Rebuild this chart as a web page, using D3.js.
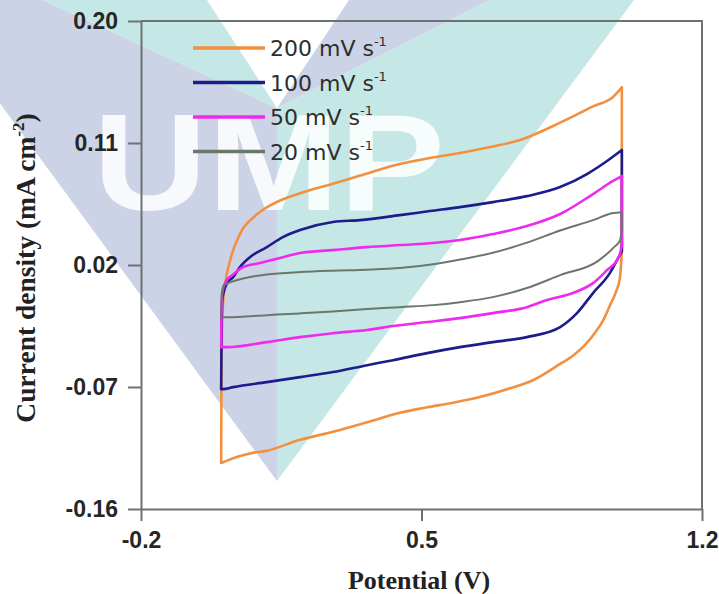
<!DOCTYPE html>
<html>
<head>
<meta charset="utf-8">
<script src="https://cdn.jsdelivr.net/npm/d3@7"></script>
<style>
  body { margin: 0; background: #fff; }
  svg { display: block; }
</style>
</head>
<body>
<div id="chart"></div>
<script>
// CV loops, [potential V, current density mA cm^-2]
// fwd = upper branch 0 -> 1 V, rev = lower branch 1 -> 0 V
const fwd200 = [[0,-0.126],[0.001,-0.05],[0.004,-0.012],[0.010,0.006],[0.022,0.023],[0.047,0.043],[0.084,0.056],[0.129,0.065],[0.197,0.073],[0.279,0.080],[0.347,0.086],[0.446,0.0945],[0.521,0.099],[0.596,0.1026],[0.671,0.107],[0.746,0.1122],[0.846,0.125],[0.928,0.137],[0.978,0.144],[1.0,0.151]];
const rev200 = [[1.0,0.03],[0.995,0.010],[0.985,0.0],[0.970,-0.010],[0.953,-0.021],[0.933,-0.030],[0.908,-0.039],[0.878,-0.047],[0.846,-0.053],[0.778,-0.065],[0.721,-0.071],[0.638,-0.078],[0.571,-0.082],[0.514,-0.085],[0.446,-0.089],[0.364,-0.096],[0.279,-0.103],[0.197,-0.109],[0.114,-0.117],[0.072,-0.119],[0.030,-0.1225],[0.005,-0.1255],[0,-0.126]];

const fwd100 = [[0,-0.0716],[0.001,-0.03],[0.003,-0.005],[0.015,0.0066],[0.03,0.011],[0.047,0.0185],[0.072,0.0258],[0.114,0.0332],[0.154,0.0406],[0.197,0.0458],[0.279,0.0517],[0.347,0.0531],[0.446,0.0568],[0.521,0.0598],[0.596,0.0627],[0.678,0.0664],[0.763,0.0708],[0.846,0.0775],[0.913,0.0871],[0.963,0.0967],[1.0,0.1048]];
const rev100 = [[1.0,0.03],[0.988,0.0236],[0.970,0.014],[0.928,-0.0007],[0.888,-0.0155],[0.846,-0.0258],[0.763,-0.0332],[0.678,-0.0369],[0.596,-0.0406],[0.514,-0.045],[0.429,-0.0502],[0.364,-0.0539],[0.279,-0.059],[0.197,-0.0627],[0.114,-0.0664],[0.030,-0.0701],[0.005,-0.0716],[0,-0.0716]];

const fwd50 = [[0,-0.0406],[0.001,-0.015],[0.003,0.0],[0.012,0.008],[0.03,0.013],[0.055,0.0185],[0.097,0.0214],[0.154,0.0258],[0.197,0.0288],[0.279,0.031],[0.364,0.0332],[0.446,0.0347],[0.529,0.0362],[0.596,0.0384],[0.678,0.0428],[0.763,0.0487],[0.846,0.0576],[0.928,0.0723],[0.978,0.082],[1.0,0.0856]];
const rev50 = [[1.0,0.035],[0.995,0.028],[0.988,0.0236],[0.963,0.0162],[0.928,0.0066],[0.878,-0.0007],[0.813,-0.0059],[0.763,-0.0111],[0.678,-0.0155],[0.596,-0.0192],[0.514,-0.0221],[0.429,-0.025],[0.364,-0.028],[0.279,-0.0303],[0.197,-0.0332],[0.114,-0.0369],[0.015,-0.0406],[0,-0.0406]];

const fwd20 = [[0,-0.0185],[0.002,0.0],[0.008,0.0052],[0.04,0.0089],[0.072,0.0111],[0.114,0.013],[0.197,0.0148],[0.279,0.0158],[0.364,0.0165],[0.446,0.0177],[0.529,0.0205],[0.596,0.024],[0.678,0.029],[0.763,0.0365],[0.846,0.0455],[0.928,0.0531],[0.978,0.0583],[1.0,0.059]];
const rev20 = [[1.0,0.045],[0.995,0.038],[0.98,0.033],[0.94,0.0229],[0.846,0.0125],[0.763,0.003],[0.678,-0.0037],[0.596,-0.0074],[0.529,-0.0096],[0.446,-0.0111],[0.364,-0.0125],[0.279,-0.0143],[0.197,-0.0157],[0.114,-0.017],[0.015,-0.0185],[0,-0.0185]];

const scanRates = ['200', '100', '50', '20'];
const colors = ['#f39040', '#1c1c8c', '#ee2aee', '#6a786a'];
const xTicks = [-0.2, 0.5, 1.2];
const yTicks = [-0.16, -0.07, 0.02, 0.11, 0.20];

const loops = [[fwd200, rev200], [fwd100, rev100], [fwd50, rev50], [fwd20, rev20]];

const width = 719, height = 594;
const margin = { top: 21, right: 17, bottom: 85, left: 141 };

const svg = d3.select('#chart').append('svg')
    .attr('width', width)
    .attr('height', height);

// faded logo watermark behind the plot (it is in the source image)
const wm = svg.append('g');
const lav = '#cdd3e6', teal = '#c5e8e6';
const wmShapes = [
    { fill: lav, pts: [[-76,0],[43,0],[277,108],[277,481]] },
    { fill: teal, pts: [[43,0],[207,0],[277,108]] },
    { fill: lav, pts: [[349,0],[490,0],[277,108]] },
    { fill: teal, pts: [[490,0],[634,0],[277,481],[277,108]] }
];
wm.selectAll('polygon')
    .data(wmShapes)
    .join('polygon')
    .attr('points', d => d.pts.join(' '))
    .attr('fill', d => d.fill);
wm.append('text')
    .attr('x', 93)
    .attr('y', 210)
    .attr('font-family', 'Liberation Sans, Arial, sans-serif')
    .attr('font-weight', 'bold')
    .attr('font-size', 138)
    .attr('textLength', 352)
    .attr('lengthAdjust', 'spacingAndGlyphs')
    .attr('fill', '#fff')
    .attr('fill-opacity', 0.85)
    .text('UMP');

const x = d3.scaleLinear()
    .domain([-0.2, 1.2])
    .range([margin.left, width - margin.right]);

const y = d3.scaleLinear()
    .domain([-0.16, 0.20])
    .range([height - margin.bottom, margin.top]);

const axisColor = '#6d7272';

// frame top + right
svg.append('path')
    .attr('d', `M${x(-0.2)},${y(0.20)}H${x(1.2)}V${y(-0.16)}`)
    .attr('fill', 'none')
    .attr('stroke', axisColor)
    .attr('stroke-width', 2);

const xAxis = svg.append('g')
    .attr('transform', `translate(0,${y(-0.16)})`)
    .call(d3.axisBottom(x).tickValues(xTicks).tickFormat(d => d.toFixed(1)).tickSize(12).tickSizeOuter(0).tickPadding(11));

const yAxis = svg.append('g')
    .attr('transform', `translate(${x(-0.2)},0)`)
    .call(d3.axisLeft(y).tickValues(yTicks).tickFormat(d => d.toFixed(2)).tickSize(13).tickSizeOuter(0).tickPadding(10));

[xAxis, yAxis].forEach(g => {
    g.select('.domain').attr('stroke', axisColor).attr('stroke-width', 2);
    g.selectAll('.tick line').attr('stroke', axisColor).attr('stroke-width', 2);
    g.selectAll('.tick text')
        .attr('fill', '#262626')
        .attr('font-family', 'Liberation Sans, Arial, sans-serif')
        .attr('font-weight', 'bold')
        .attr('font-size', 23);
});

// CV loops: smooth branches, straight switch at 1 V
const smooth = d3.line()
    .x(d => x(d[0]))
    .y(d => y(d[1]))
    .curve(d3.curveMonotoneX);
const straight = d3.line()
    .x(d => x(d[0]))
    .y(d => y(d[1]));

svg.append('g')
    .selectAll('path')
    .data(loops)
    .join('path')
    .attr('d', ([f, r]) => smooth(f) + smooth(r.slice().reverse()) + straight([f[f.length - 1], r[0]]))
    .attr('fill', 'none')
    .attr('stroke', (d, i) => colors[i])
    .attr('stroke-width', (d, i) => i == 3 ? 2 : 2.6)
    .attr('stroke-linejoin', 'round')
    .attr('stroke-linecap', 'round');

// legend
const leg = svg.append('g')
    .selectAll('g')
    .data(scanRates)
    .join('g')
    .attr('transform', (d, i) => `translate(193,${48 + i * 34.5})`);
leg.append('line')
    .attr('x1', 0).attr('x2', 72)
    .attr('stroke', (d, i) => colors[i])
    .attr('stroke-width', 3.5);
const lt = leg.append('text')
    .attr('x', 77)
    .attr('y', 8)
    .attr('font-family', 'DejaVu Sans, Verdana, sans-serif')
    .attr('font-size', 22)
    .attr('fill', '#2e2e2e');
lt.append('tspan').text(d => d + ' mV s');
lt.append('tspan').attr('dy', -10).attr('font-size', 13).text('-1');

// axis titles
svg.append('text')
    .attr('x', 419)
    .attr('y', 589)
    .attr('text-anchor', 'middle')
    .attr('font-family', 'Liberation Serif, Times New Roman, serif')
    .attr('font-weight', 'bold')
    .attr('font-size', 26)
    .attr('fill', '#222')
    .text('Potential (V)');

const yt = svg.append('text')
    .attr('transform', 'translate(35,268) rotate(-90)')
    .attr('text-anchor', 'middle')
    .attr('font-family', 'Liberation Serif, Times New Roman, serif')
    .attr('font-weight', 'bold')
    .attr('font-size', 27.5)
    .attr('fill', '#222');
yt.append('tspan').text('Current density (mA cm');
yt.append('tspan').attr('dy', -11).attr('font-size', 17).text('-2');
yt.append('tspan').attr('dy', 11).text(')');
</script>
</body>
</html>
